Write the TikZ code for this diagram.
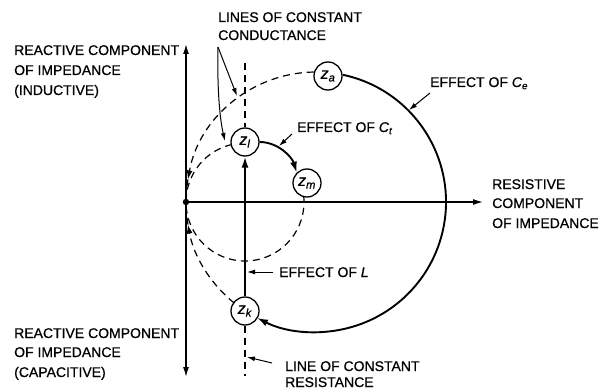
\documentclass[tikz,border=0pt]{standalone}
\usepackage{fontspec}
\setmainfont{Liberation Sans}[FakeBold=0.7]
\usetikzlibrary{arrows.meta,calc}
\newcommand\zlab[1]{\textit{z}\textsubscript{\textit{#1}}}
\newcommand\itsub[2]{\textit{#1}\textsubscript{\textit{#2}}}
\begin{document}
\begin{tikzpicture}[x=1pt,y=-1pt,
  lbl/.style={font=\fontsize{14}{16}\selectfont, inner sep=0pt, anchor=base west},
  znode/.style={circle, draw, line width=1.3pt, minimum size=28pt, inner sep=0pt, fill=white, font=\fontsize{16}{18}\selectfont},
  axis/.style={line width=1.4pt, -{Latex[length=10pt,width=6pt]}},
  dsh/.style={line width=1.2pt, dash pattern=on 7pt off 5pt},
  arrowhd/.style={-{Latex[length=9pt,width=6pt]}},
  thinarrow/.style={line width=1pt, -{Latex[length=8pt,width=5pt]}},
  heavy/.style={line width=1.9pt, -{Latex[length=11pt,width=7pt]}}
]
\useasboundingbox (0,0) rectangle (612,390);
\coordinate (O) at (186,202);
\coordinate (C) at (316,202);
\coordinate (S) at (245,202);
\node[znode] (za) at (328,76) {\zlab{a}};
\node[znode] (zl) at (245,142) {\zlab{l}};
\node[znode] (zm) at (307,183) {\zlab{m}};
\node[znode] (zk) at (245,311) {\zlab{k}};
% axes
\coordinate (ytop) at (186,44);
\coordinate (ybot) at (186,377);
\coordinate (xend) at (483,202);
\draw[axis] (O) -- (ytop);
\draw[axis] (O) -- (ybot);
\draw[axis] (O) -- (xend);
\fill (O) circle (3.2pt);
% big circle
\draw[heavy] ($(C)+(-78:130)$) arc[start angle=-78, end angle=117, radius=130];
\draw[dsh, arrowhd] ($(C)+(-91:130)$) arc[start angle=-91, end angle=-170, radius=130];
\draw[dsh] ($(C)+(-170:130)$) arc[start angle=-170, end angle=-180, radius=130];
\draw[dsh, arrowhd] ($(C)+(129:130)$) arc[start angle=129, end angle=170, radius=130];
\draw[dsh] ($(C)+(170:130)$) arc[start angle=170, end angle=180, radius=130];
% small circle
\draw[dsh] ($(S)+(-6:59)$) arc[start angle=-6, end angle=256, radius=59];
% constant resistance line
\coordinate (vtop) at (245,63);
\coordinate (vbot) at (245,376);
\draw[dsh] (vtop) -- (zl);
\draw[dsh] (zk) -- (vbot);
\draw[heavy] (zk) -- (zl);
\draw[heavy] (zl.east) .. controls (278,142) and (292,157) .. (zm.north west);
% labels
\node[lbl] (t1) at (218,22) {LINES OF CONSTANT};
\node[lbl] (t2) at (218,40) {CONDUCTANCE};
\coordinate (ap) at (218,47);
\coordinate (cg1) at (237,96);
\coordinate (cg2) at (225,141);
\draw[thinarrow] (ap) -- (cg1);
\draw[thinarrow] (ap) .. controls (217,90) and (220,120) .. (cg2);
\node[lbl] (r1) at (14,55) {REACTIVE COMPONENT};
\node[lbl] (r2) at (14,75) {OF IMPEDANCE};
\node[lbl] (r3) at (14,95) {(INDUCTIVE)};
\node[lbl] (ce) at (430,87) {EFFECT OF \itsub{C}{e}};
\coordinate (ce1) at (430,93);
\coordinate (ce2) at (409,110);
\draw[thinarrow] (ce1) -- (ce2);
\node[lbl] (ct) at (297,132) {EFFECT OF \itsub{C}{t}};
\coordinate (ct1) at (292,134);
\coordinate (ct2) at (279,146);
\draw[thinarrow] (ct1) -- (ct2);
\node[lbl] (s1) at (492,189) {RESISTIVE};
\node[lbl] (s2) at (492,208) {COMPONENT};
\node[lbl] (s3) at (492,228) {OF IMPEDANCE};
\node[lbl] (el) at (279,277) {EFFECT OF \textit{L}};
\coordinate (el1) at (273,272);
\coordinate (el2) at (247,272);
\draw[thinarrow] (el1) -- (el2);
\node[lbl] (lr1) at (285,371) {LINE OF CONSTANT};
\node[lbl] (lr2) at (285,387) {RESISTANCE};
\coordinate (lr3) at (272,363);
\coordinate (lr4) at (247,357);
\draw[thinarrow] (lr3) -- (lr4);
\node[lbl] (b1) at (14,338) {REACTIVE COMPONENT};
\node[lbl] (b2) at (14,357) {OF IMPEDANCE};
\node[lbl] (b3) at (14,377) {(CAPACITIVE)};
\end{tikzpicture}
\end{document}
